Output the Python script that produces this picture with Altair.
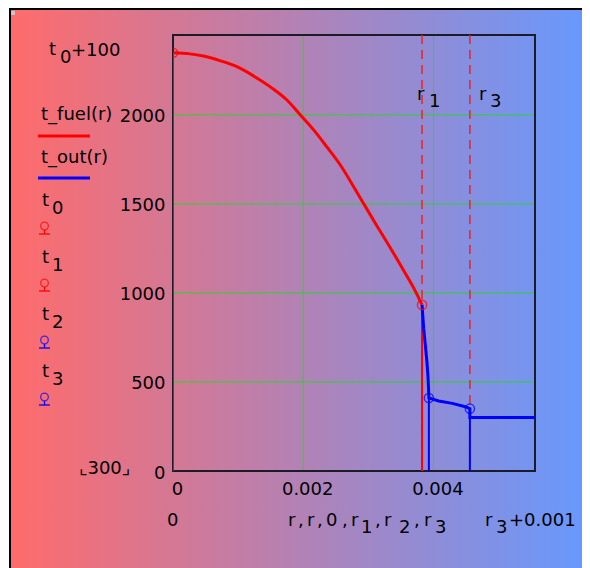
import altair as alt
import pandas as pd

# ---- data ----
r_pts = [0.0, 0.003825, 0.00393, 0.00456]          # r0(=0), r1, r2, r3
t_pts = [2349, 933, 410, 350]                      # t0, t1, t2, t3
pt_names = ["0", "1", "2", "3"]

r_fuel = [0.0, 0.00026, 0.000465, 0.00072, 0.00098, 0.00123, 0.00149, 0.00175,
          0.00195, 0.00216, 0.00236, 0.00257, 0.00277, 0.00292, 0.00313,
          0.00333, 0.00354, 0.00372, 0.003825]
t_fuel = [2349, 2343, 2331, 2305, 2271, 2221, 2159, 2084,
          2003, 1916, 1822, 1719, 1600, 1507, 1378,
          1258, 1128, 1012, 933]

r_out = [0.003825, 0.00385, 0.003875, 0.0039, 0.003915, 0.003925, 0.00393,
         0.00408, 0.00429, 0.00449, 0.00456, 0.00456, 0.00556]
t_out = [933, 802, 708, 614, 539, 465, 410,
         393, 380, 361, 350, 300, 300]

x_ticks = [0, 0.002, 0.004]
y_ticks = [0, 500, 1000, 1500, 2000]
x_grid = [0.002, 0.004]
y_grid = [500, 1000, 1500, 2000]
marker_r = [r_pts[1], r_pts[3]]

t0 = t_pts[0]
r3 = r_pts[3]

# ---- style ----
W, H = 362, 436
FONT = "DejaVu Sans"
FS = 18
RED = "#ff0000"
BLUE = "#0000ff"
GREEN = "#2fd02f"
pt_colors = [RED, RED, BLUE, BLUE]

xs = alt.Scale(domain=[0, r3 + 0.001], nice=False, zero=False)
ys = alt.Scale(domain=[0, t0 + 100], nice=False, zero=False)
xaxis = alt.Axis(values=x_ticks, format="~g", title=None, ticks=False, domain=False,
                 grid=False, labelFont=FONT, labelFontSize=FS, labelColor="black",
                 labelPadding=9, labelOffset=4, labelFlush=False, labelOverlap=False,
                 zindex=1)
yaxis = alt.Axis(values=y_ticks, format="d", title=None, ticks=False, domain=False,
                 grid=False, labelFont=FONT, labelFontSize=FS, labelColor="black",
                 labelPadding=8, labelOffset=2, labelFlush=False, labelOverlap=False,
                 zindex=1)

def X(f):
    return alt.X(f, type="quantitative", scale=xs, axis=xaxis)

def Y(f):
    return alt.Y(f, type="quantitative", scale=ys, axis=yaxis)

one = pd.DataFrame({"k": [0]})

# background gradient with black frame (left/top visible); ends at the window edges
grad = alt.Gradient(gradient="linear", x1=0, y1=0, x2=1, y2=0,
                    stops=[alt.GradientStop(offset=0, color="#ff6b6b"),
                           alt.GradientStop(offset=1, color="#6699ff")])
bg = alt.Chart(one).mark_rect(fill=grad).encode(
    x=alt.value(-163), x2=alt.value(417), y=alt.value(-26), y2=alt.value(533))
bgl = alt.Chart(one).mark_rule(color="black", strokeWidth=2).encode(
    x=alt.value(-163), y=alt.value(-27), y2=alt.value(533))
bgt = alt.Chart(one).mark_rule(color="black", strokeWidth=2).encode(
    x=alt.value(-164), x2=alt.value(417), y=alt.value(-26))
corner = alt.Chart(one).mark_rect(fill="#c8c8c8").encode(
    x=alt.value(-162), x2=alt.value(-158), y=alt.value(-24), y2=alt.value(-20))

gx = alt.Chart(pd.DataFrame({"r": x_grid})).mark_rule(color=GREEN, strokeWidth=1).encode(x=X("r"))
gy = alt.Chart(pd.DataFrame({"t": y_grid})).mark_rule(color=GREEN, strokeWidth=1).encode(y=Y("t"))

frame = alt.Chart(one).mark_rect(fillOpacity=0, stroke="#1c1c28", strokeWidth=2).encode(
    x=alt.value(0), x2=alt.value(W), y=alt.value(0), y2=alt.value(H))

dash = alt.Chart(pd.DataFrame({"r": marker_r})).mark_rule(
    color="#ee2222", strokeWidth=1.5, strokeDash=[9, 6]).encode(x=X("r"))

pts = pd.DataFrame({"r": r_pts, "t": t_pts, "base": [0] * 4, "c": pt_colors})
stems = alt.Chart(pts).mark_rule(strokeWidth=2, clip=True).encode(
    x=X("r"), y=Y("t"), y2="base:Q", color=alt.Color("c:N", scale=None))

fuel = alt.Chart(pd.DataFrame({"r": r_fuel, "t": t_fuel})).mark_line(
    color=RED, strokeWidth=3, clip=True, interpolate="monotone").encode(x=X("r"), y=Y("t"))
out = alt.Chart(pd.DataFrame({"r": r_out, "t": t_out, "i": list(range(len(r_out)))})).mark_line(
    color=BLUE, strokeWidth=3, clip=True).encode(x=X("r"), y=Y("t"), order="i:Q")

marks = alt.Chart(pts).mark_point(shape="circle", filled=False, size=85, strokeWidth=1.5,
                                  clip=True).encode(
    x=X("r"), y=Y("t"), color=alt.Color("c:N", scale=None))

def txt(s, px, py, size=FS, color="black"):
    # px, py are page coordinates of the text's left edge / baseline
    return alt.Chart(one).mark_text(text=s, align="left", baseline="alphabetic",
                                    font=FONT, fontSize=size, color=color).encode(
        x=alt.value(px - 173), y=alt.value(py - 35))

def hline(x1, x2, py, color, w):
    return alt.Chart(one).mark_rule(color=color, strokeWidth=w).encode(
        x=alt.value(x1 - 173), x2=alt.value(x2 - 173), y=alt.value(py - 35))

def vline(px, y1, y2, color, w):
    return alt.Chart(one).mark_rule(color=color, strokeWidth=w).encode(
        x=alt.value(px - 173), y=alt.value(y1 - 35), y2=alt.value(y2 - 35))

def sym(cx, cy, color):
    return alt.Chart(one).mark_point(shape="circle", filled=False, size=58, strokeWidth=1.3,
                                     color=color).encode(
        x=alt.value(cx - 173), y=alt.value(cy - 35))

ann = []
# upper y-limit label
ann += [txt("t", 49, 55), txt("0", 60, 63), txt("+100", 71, 56)]
# lower y-limit placeholder
ann += [txt("\u231e300\u231f", 79, 474)]
# legend
ann += [txt("t_fuel(r)", 41, 120), hline(38, 90, 136, RED, 3)]
ann += [txt("t_out(r)", 41, 163), hline(38, 90, 178, BLUE, 3)]
for i, nm in enumerate(pt_names):
    c = pt_colors[i]
    ann += [txt("t", 42, 206 + 57 * i), txt(nm, 52, 214 + 57 * i),
            sym(44.5, 226 + 57 * i, c),
            vline(44.5, 230 + 57 * i, 234 + 57 * i, c, 1.3),
            hline(39, 50, 234 + 57 * i, c, 1.3)]
# marker labels
ann += [txt("r", 417, 100), txt("1", 429, 107), txt("r", 479, 100), txt("3", 490, 107)]
# x-limit / expression row
row = [("0", 167, 526), ("r", 288, 526), (",", 298, 526), ("r", 307, 526), (",", 317, 526),
       ("0", 326, 526), (",", 342, 526), ("r", 351, 526), ("1", 361, 533), (",", 375, 526),
       ("r", 384, 526), ("2", 399, 533), (",", 414, 526), ("r", 424, 526), ("3", 435, 533),
       ("r", 485, 526), ("3", 496, 533), ("+0.001", 509, 526)]
ann += [txt(s, px, py) for s, px, py in row]

chart = alt.layer(bg, bgl, bgt, corner, gx, gy, frame, dash, stems, fuel, out, marks,
                  *ann).properties(
    width=W, height=H,
    autosize=alt.AutoSizeParams(type="none"),
    padding={"left": 165, "top": 27, "right": 47, "bottom": 97},
).configure_view(strokeWidth=0)

chart.save("out.html", embed_options={"renderer": "svg", "actions": False})
